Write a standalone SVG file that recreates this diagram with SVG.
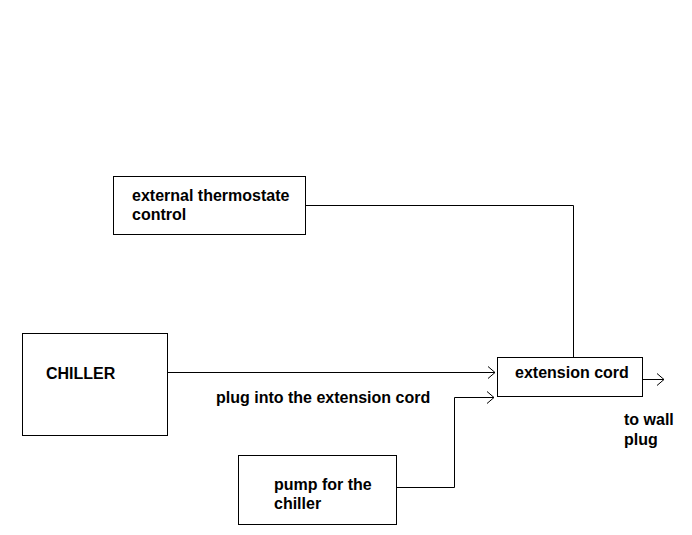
<svg xmlns="http://www.w3.org/2000/svg" width="692" height="535" viewBox="0 0 692 535">
<defs>
<style>
.box{fill:#fff;stroke:#000;stroke-width:1}
.t{font-family:"Liberation Sans",Arial,sans-serif;font-weight:bold;font-size:16px;fill:#000}
.c{fill:none;stroke:#000;stroke-width:1}
</style>
<marker id="arr" markerWidth="10" markerHeight="14" refX="8" refY="7" orient="auto" markerUnits="userSpaceOnUse">
<path d="M1,1 L8,7 L1,13" fill="none" stroke="#000" stroke-width="1"/>
</marker>
</defs>
<rect width="692" height="535" fill="#fff"/>
<g id="connectors">
<path class="c" d="M305.5,205.5 H573.5 V357"/>
<path class="c" d="M167,372.5 H495" marker-end="url(#arr)"/>
<path class="c" d="M396,487.5 H454.5 V397.5 H494" marker-end="url(#arr)"/>
<path class="c" d="M642,379.5 H664" marker-end="url(#arr)"/>
</g>
<g id="thermostat">
<rect class="box" x="113.5" y="176.5" width="192" height="58"/>
<text class="t" x="132" y="201">external thermostate</text>
<text class="t" x="132" y="220">control</text>
</g>
<g id="chiller">
<rect class="box" x="22.5" y="333.5" width="145" height="102"/>
<text class="t" x="46" y="379">CHILLER</text>
</g>
<g id="extension">
<rect class="box" x="497.5" y="357.5" width="145" height="39"/>
<text class="t" x="515" y="378">extension cord</text>
</g>
<g id="pump">
<rect class="box" x="238.5" y="455.5" width="158" height="69"/>
<text class="t" x="274" y="490">pump for the</text>
<text class="t" x="274" y="509">chiller</text>
</g>
<g id="labels">
<text class="t" x="216" y="403">plug into the extension cord</text>
<text class="t" x="624" y="425">to wall</text>
<text class="t" x="624" y="445">plug</text>
</g>
</svg>
